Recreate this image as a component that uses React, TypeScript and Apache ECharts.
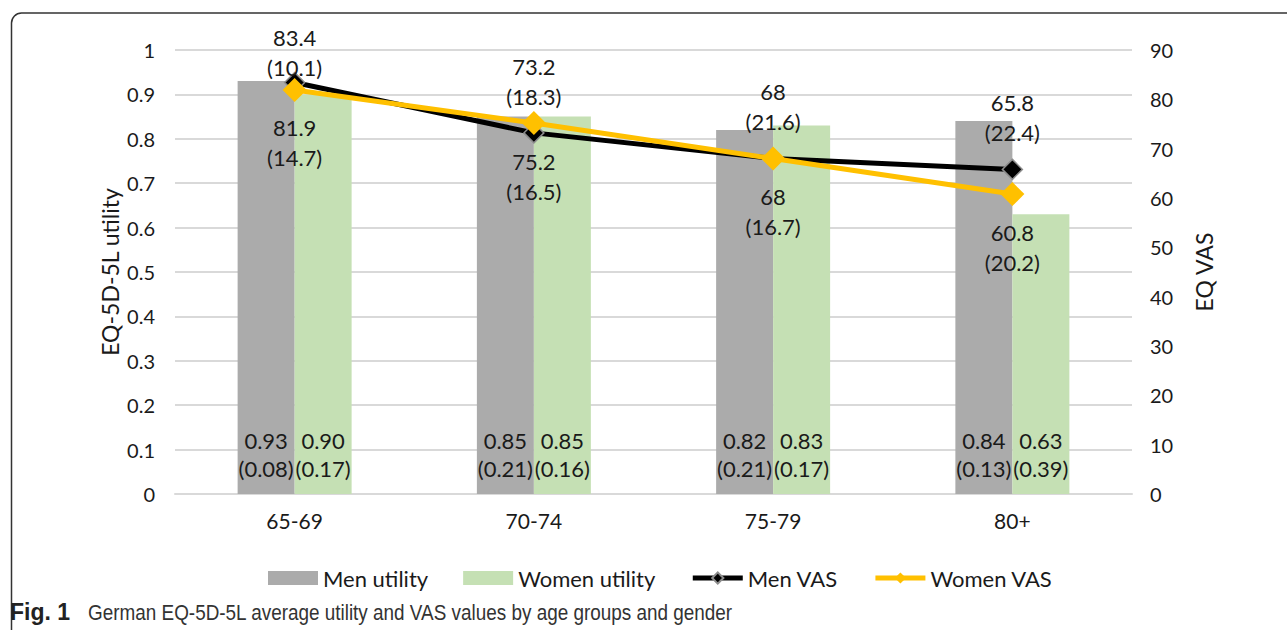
import React, { useEffect, useRef } from "react";
import * as echarts from "echarts";

const categories = ["65-69", "70-74", "75-79", "80+"];
const menUtility = [0.93, 0.85, 0.82, 0.84];
const menUtilitySD = ["0.08", "0.21", "0.21", "0.13"];
const womenUtility = [0.9, 0.85, 0.83, 0.63];
const womenUtilitySD = ["0.17", "0.16", "0.17", "0.39"];
const menVAS = [83.4, 73.2, 68, 65.8];
const menVASSD = ["10.1", "18.3", "21.6", "22.4"];
const womenVAS = [81.9, 75.2, 68, 60.8];
const womenVASSD = ["14.7", "16.5", "16.7", "20.2"];
const leftTicks = { min: 0, max: 1, interval: 0.1 };
const rightTicks = { min: 0, max: 90, interval: 10 };

const FONT = "Lato, 'Open Sans', sans-serif";
const CAP_FONT = "'Liberation Sans', Arial, sans-serif";
const TXT = "#1a1a1a";

export default function App() {
  const ref = useRef<HTMLDivElement>(null);
  useEffect(() => {
    if (!ref.current) return;
    const chart = echarts.init(ref.current, null, { renderer: "svg" });
    const barLabel = { fontSize: 22, lineHeight: 28, color: TXT, fontFamily: FONT };
    const lineLabel = { fontSize: 22, lineHeight: 30, color: TXT, fontFamily: FONT };
    const menTopDist = [-11, 11, 11, 11];
    const womenBottomDist = [11, 11, 11, 11];
    chart.setOption({
      animation: false,
      backgroundColor: "#fff",
      textStyle: { fontFamily: FONT },
      grid: { left: 175, right: 155, top: 50, bottom: 136, containLabel: false },
      legend: {
        left: 263,
        top: 562,
        itemWidth: 50,
        itemHeight: 14,
        itemGap: 35,
        textStyle: { fontSize: 22, color: TXT, fontFamily: FONT },
        data: [
          { name: "Men utility", icon: "rect" },
          { name: "Women utility", icon: "rect" },
          { name: "Men VAS", lineStyle: { width: 5 } },
          { name: "Women VAS", lineStyle: { width: 5 } },
        ],
      },
      xAxis: {
        type: "category",
        data: categories,
        axisLine: { lineStyle: { color: "#d9d9d9", width: 2 } },
        axisTick: { show: false },
        axisLabel: { fontSize: 21, color: TXT, margin: 16, fontFamily: FONT },
      },
      yAxis: [
        {
          type: "value",
          ...leftTicks,
          name: "EQ-5D-5L utility",
          nameLocation: "middle",
          nameRotate: 90,
          nameGap: 54,
          nameMoveOverlap: false,
          nameTextStyle: { fontSize: 23, color: TXT, fontFamily: FONT },
          axisLabel: { fontSize: 20, color: TXT, margin: 20, fontFamily: FONT },
          splitLine: { lineStyle: { color: "#d9d9d9", width: 2 } },
          axisLine: { show: false },
          axisTick: { show: false },
        },
        {
          type: "value",
          ...rightTicks,
          position: "right",
          name: "EQ VAS",
          nameLocation: "middle",
          nameRotate: 90,
          nameGap: 60,
          nameTextStyle: { fontSize: 23, color: TXT, fontFamily: FONT },
          axisLabel: { fontSize: 20, color: TXT, margin: 18, fontFamily: FONT },
          splitLine: { show: false },
          axisLine: { show: false },
          axisTick: { show: false },
        },
      ],
      series: [
        {
          name: "Men utility",
          type: "bar",
          yAxisIndex: 0,
          barWidth: 57,
          barGap: "0%",
          itemStyle: { color: "#ababab" },
          data: menUtility,
          label: {
            show: true,
            position: "insideBottom",
            distance: 12,
            ...barLabel,
            formatter: (p: any) => `${p.value.toFixed(2)}\n(${menUtilitySD[p.dataIndex]})`,
          },
        },
        {
          name: "Women utility",
          type: "bar",
          yAxisIndex: 0,
          barWidth: 57,
          barGap: "0%",
          itemStyle: { color: "#c5e0b4" },
          data: womenUtility,
          label: {
            show: true,
            position: "insideBottom",
            distance: 12,
            ...barLabel,
            formatter: (p: any) => `${p.value.toFixed(2)}\n(${womenUtilitySD[p.dataIndex]})`,
          },
        },
        {
          name: "Men VAS",
          type: "line",
          yAxisIndex: 1,
          z: 4,
          symbol: "diamond",
          symbolSize: 20,
          lineStyle: { color: "#000", width: 5 },
          itemStyle: { color: "#000", borderColor: "#8c8c8c", borderWidth: 1.5 },
          data: menVAS.map((v, i) => ({
            value: v,
            label: { distance: menTopDist[i] },
          })),
          label: {
            show: true,
            position: "top",
            ...lineLabel,
            formatter: (p: any) => `${p.value}\n(${menVASSD[p.dataIndex]})`,
          },
        },
        {
          name: "Women VAS",
          type: "line",
          yAxisIndex: 1,
          z: 5,
          symbol: "diamond",
          symbolSize: 24,
          lineStyle: { color: "#ffc000", width: 5 },
          itemStyle: { color: "#ffc000" },
          data: womenVAS.map((v, i) => ({
            value: v,
            label: { distance: womenBottomDist[i] },
          })),
          label: {
            show: true,
            position: "bottom",
            ...lineLabel,
            formatter: (p: any) => `${p.value}\n(${womenVASSD[p.dataIndex]})`,
          },
        },
      ],
      graphic: [
        {
          type: "rect",
          shape: { x: 11.5, y: 13, width: 1400, height: 800, r: 10 },
          style: { fill: "none", stroke: "#333", lineWidth: 1.5 },
          silent: true,
        },
        {
          type: "text",
          x: 10,
          y: 612,
          style: {
            x: 0,
            y: 0,
            text: "Fig. 1",
            fontSize: 23,
            fontWeight: "bold",
            fill: "#222",
            fontFamily: CAP_FONT,
            verticalAlign: "middle",
          },
        },
        {
          type: "text",
          x: 88,
          y: 612,
          scaleX: 0.86,
          style: {
            x: 0,
            y: 0,
            text: "German EQ-5D-5L average utility and VAS values by age groups and gender",
            fontSize: 22,
            fill: "#333",
            fontFamily: CAP_FONT,
            verticalAlign: "middle",
          },
        },
      ],
    });
    return () => chart.dispose();
  }, []);
  return (
    <div
      ref={ref}
      style={{ position: "fixed", left: 0, top: 0, width: 1287, height: 630 }}
    />
  );
}
